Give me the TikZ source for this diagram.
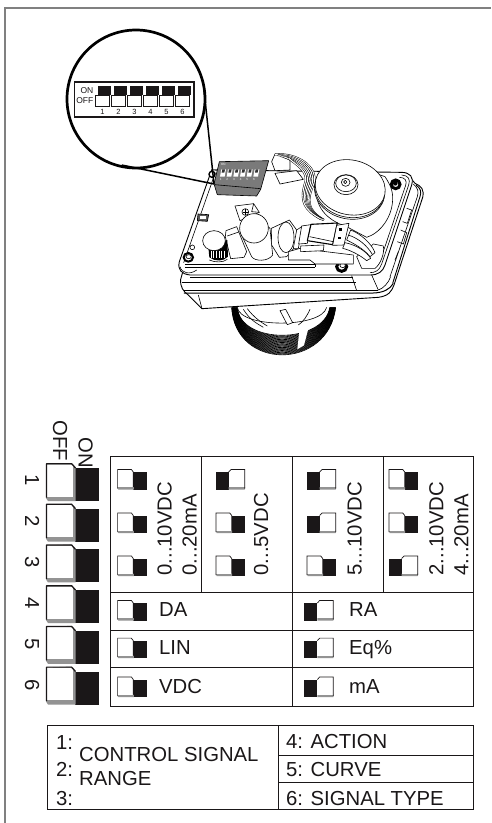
\documentclass[tikz,border=0pt]{standalone}
\usepackage{fontspec}
\setmainfont{Liberation Sans}
\definecolor{ink}{HTML}{1A1718}
\definecolor{frameg}{HTML}{808080}
\definecolor{swg}{HTML}{939393}
\definecolor{dipg}{HTML}{7A7A7A}
\tikzset{
  lab/.style={font=\fontsize{20.3}{24}\selectfont,text=ink,inner sep=0pt,anchor=base west},
  vlab/.style={lab,rotate=90},
  dlab/.style={font=\fontsize{20.3}{24}\selectfont,text=ink,inner sep=0pt,anchor=base west,rotate=-90},
  rule/.style={draw=ink,line width=0.9pt},
  part/.style={draw=black,line width=0.6pt,fill=white,line join=round},
  ln/.style={draw=black,line width=0.6pt},
}
% big switch: top y
\newcommand{\bigsw}[1]{%
  \fill[ink] (75,#1+5) rectangle (98.5,#1+38);
  \fill[swg] (46,#1+1) -- (72,#1) -- (75.5,#1+4) -- (75.5,#1+38) -- (48,#1+38) -- (46,#1+35) -- cycle;
  \fill[white] (47,#1+1.5) rectangle (72.5,#1+33.5);
  \draw[ink,line width=1.2pt,line join=round] (46.5,#1+34.5) -- (46.5,#1+0.6) -- (71.5,#1+0.6) -- (75.5,#1+5);
}
% small switch, white on left
\newcommand{\swoff}[2]{%
  \fill[ink] (#1+16,#2+3) rectangle (#1+29.5,#2+20.5);
  \fill[swg] (#1,#2+18) -- (#1+16.5,#2+18) -- (#1+16.5,#2+20.5) -- (#1+1,#2+20.5) -- cycle;
  \fill[white] (#1+0.5,#2+0.5) rectangle (#1+15.5,#2+18);
  \draw[ink,line width=0.7pt] (#1+0.3,#2+19.5) -- (#1+0.3,#2+0.4) -- (#1+14,#2+0.4) -- (#1+16,#2+3) -- (#1+16,#2+18);
}
% small switch, black on left
\newcommand{\swon}[2]{%
  \fill[ink] (#1,#2+3) rectangle (#1+13,#2+20.5);
  \fill[swg] (#1+13,#2+18) -- (#1+29.5,#2+18) -- (#1+29,#2+20.5) -- (#1+13,#2+20.5) -- cycle;
  \fill[white] (#1+13,#2+0.5) rectangle (#1+28.5,#2+18);
  \draw[ink,line width=0.7pt] (#1+13,#2+3) -- (#1+15.5,#2+0.4) -- (#1+29,#2+0.4) -- (#1+29,#2+19.5);
}
\begin{document}
\begin{tikzpicture}[x=1pt,y=-1pt]
\useasboundingbox (0,0) rectangle (491,823);
\fill[white] (0,0) rectangle (491,823);
% frame
\draw[frameg,line width=2pt] (5,823) -- (5,8) -- (491,8);

% ---------- device (coordinates of a 3x view) ----------
\begin{scope}[x=0.33333pt,y=-0.33333pt,shift={(420,360)}]
  % knob ribs
  \fill[white] (275,560) -- (585,560) -- (575,640) -- (400,708) -- (300,660) -- cycle;
  \foreach \k in {0,...,27}{
    \draw[black,line width=0.62pt] ({275+\k*0.65},562) .. controls ({285+\k*0.5},{752-\k*2.9}) and ({565-\k*0.5},{752-\k*2.9}) .. ({587-\k*0.65},562);
  }
  \fill[white] (478,632) -- (506,622) -- (492,676) -- (472,688) -- cycle;
  \draw[ln,fill=white] (292,562) .. controls (300,625) and (545,625) .. (560,562);
  \draw[ln] (310,568) .. controls (330,600) and (350,610) .. (370,622);
  \draw[ln] (322,566) .. controls (340,590) and (360,605) .. (382,618);
  \draw[ln] (510,568) .. controls (500,590) and (490,605) .. (475,615);
  \draw[part] (420,572) -- (437,568) -- (458,608) -- (442,614) -- cycle;

  % lower shell
  \draw[part,line width=0.9pt] (122,478) .. controls (120,500) and (130,515) .. (145,525) -- (186,566) -- (715,532) .. controls (745,528) and (755,515) .. (762,495) -- (848,232) .. controls (853,210) and (845,198) .. (825,190) -- (800,160) -- (215,150) -- cycle;
  % top rim
  \draw[part,line width=0.9pt] (215,150) -- (118,425) .. controls (112,450) and (125,462) .. (150,465) -- (690,465) .. controls (715,465) and (728,455) .. (735,435) -- (815,195) .. controls (822,170) and (810,158) .. (785,157) -- cycle;
  \draw[ln] (226,158) -- (131,428);
  \draw[ln] (785,165) .. controls (805,166) and (812,178) .. (806,195) -- (725,432) .. controls (718,452) and (705,458) .. (690,458);
  \draw[ln] (778,172) .. controls (795,172) and (802,182) .. (797,196) -- (718,430);
  \draw[ln,line width=0.9pt] (828,195) .. controls (842,205) and (845,215) .. (840,230) -- (758,490);
  \draw[ln] (820,192) .. controls (835,205) and (836,215) .. (832,230) -- (750,470);
  % front lines
  \draw[ln,line width=0.9pt] (125,487) -- (648,487);
  \draw[ln] (133,510) -- (715,510);
  \draw[ln,line width=1pt] (132,519) -- (700,519) .. controls (730,518) and (750,508) .. (760,490);
  \draw[ln] (150,472) -- (640,472);
  \draw[ln] (635,467) -- (650,512);
  \draw[ln] (695,465) -- (715,510);
  \draw[ln] (715,510) .. controls (730,505) and (745,490) .. (752,470);
  \draw[ln] (175,525) -- (186,566);
  % PCB edge
  \draw[ln,line width=0.9pt] (135,432) -- (525,432);
  \draw[ln] (135,441) -- (525,441);
  \draw[ln] (525,432) -- (525,441);
  \draw[ln] (120,440) .. controls (125,460) and (150,465) .. (170,450);
  % right-side latches
  \draw[ln] (800,265) -- (815,270) -- (802,310) -- (788,305);
  \draw[ln] (782,330) -- (800,338) -- (790,372) -- (772,365);
  \draw[ln] (775,395) -- (765,420);

  % transformer body
  \draw[part] (530,190) .. controls (520,260) and (560,300) .. (620,320) -- (680,352) .. controls (720,340) and (760,290) .. (758,230) .. controls (757,205) and (745,185) .. (735,170) -- (620,130) -- cycle;
  % top disc layers
  \draw[part,rotate around={-12:(630,205)}] (630,213) ellipse [x radius=106,y radius=84];
  \draw[part,rotate around={-12:(630,205)}] (630,208) ellipse [x radius=106,y radius=84];
  \draw[part,rotate around={-12:(630,205)}] (630,202) ellipse [x radius=106,y radius=82];
  \draw[part] (618,194) ellipse [x radius=36,y radius=30];
  \draw[part] (618,190) ellipse [x radius=31,y radius=25];
  \draw[part] (617,187) ellipse [x radius=13,y radius=12];
  \draw[part] (616,186) ellipse [x radius=5,y radius=5];

  % header block and wires
  \draw[part] (405,160) -- (470,152) -- (490,178) -- (420,192) -- cycle;
  \draw[part] (395,125) -- (405,102) -- (450,120) -- (450,150) -- (405,152) -- cycle;
  \foreach \d in {0,7,...,35}{
    \draw[black,line width=2pt] ({405+\d*1.2},{103+\d*0.35}) .. controls ({472-\d*0.2},{98+\d*1.0}) and ({535-\d*0.7},{140+\d*0.4}) .. ({522-\d*0.8},{190+\d*0.1}) .. controls ({500-\d*0.6},{240+\d*0.1}) and ({500-\d*0.2},{270}) .. ({552-\d*0.3},{300-\d*0.1});
    \draw[white,line width=1.05pt] ({405+\d*1.2},{103+\d*0.35}) .. controls ({472-\d*0.2},{98+\d*1.0}) and ({535-\d*0.7},{140+\d*0.4}) .. ({522-\d*0.8},{190+\d*0.1}) .. controls ({500-\d*0.6},{240+\d*0.1}) and ({500-\d*0.2},{270}) .. ({552-\d*0.3},{300-\d*0.1});
  }

  % DIP block
  \draw[ln,fill=dipg,line join=round] (238,125) -- (386,122) -- (362,208) -- (350,228) -- (232,224) -- (222,192) -- cycle;
  \draw[ln] (224,194) -- (362,206);
  \foreach \i in {0,...,5}{
    \fill[white] ({244+\i*20},148) -- ({258+\i*20},148) -- ({254+\i*20},170) -- ({240+\i*20},170) -- cycle;
    \fill[black!80] ({247+\i*20},148) -- ({255+\i*20},148) -- ({253+\i*20},158) -- ({245+\i*20},158) -- cycle;
    \node[font=\fontsize{3}{3}\selectfont,text=white,inner sep=0pt] (dipn\i) at ({242+\i*20},179) {\the\numexpr\i+1\relax};
  }
  \node[font=\fontsize{3}{3}\selectfont,text=white,inner sep=0pt] (dipon) at (250,133) {ON};

  % mounting holes / screws
  \draw[part,line width=1.4pt] (216,163) circle [radius=9];
  \draw[black,line width=3pt,fill=white] (605,440) ellipse [x radius=15,y radius=14];
  \draw[part] (608,436) ellipse [x radius=8,y radius=7];
  \draw[black,line width=3pt,fill=white] (767,193) ellipse [x radius=13,y radius=13];
  \fill[black] (766,190) ellipse [x radius=7,y radius=7];
  \draw[black,line width=2pt,fill=white] (145,412) ellipse [x radius=14,y radius=13];
  \draw[part] (146,410) ellipse [x radius=8,y radius=6];
  \draw[part] (157,382) circle [radius=7];
  \draw[ln,fill=black!65] (174,282) -- (206,284) -- (202,304) -- (172,302) -- cycle;
  \fill[white] (181,287) rectangle (197,297);

  % trimmer
  \draw[part] (285,258) -- (341,251) -- (358,277) -- (300,302) -- cycle;
  \draw[part] (316,276) circle [radius=10];
  \draw[black,line width=0.7pt] (308,276) -- (324,276) (316,268) -- (316,284);
  \draw[ln] (341,251) -- (335,275) -- (358,277);

  % left block
  \draw[part] (258,332) -- (290,320) -- (320,395) -- (312,412) -- (272,416) -- (256,350) -- cycle;
  \draw[ln] (262,348) -- (296,336);
  % black can
  \fill[black] (205,380) -- (262,360) -- (264,410) .. controls (250,425) and (225,425) .. (208,412) -- cycle;
  \foreach \i in {212,220,...,258}{\draw[white,line width=0.2pt] (\i,392) -- (\i,415);}
  \draw[part] (222,362) ellipse [x radius=34,y radius=30];
  \draw[ln] (208,420) .. controls (225,428) and (250,428) .. (262,418);

  % big capacitor
  \draw[part] (300,335) -- (335,410) .. controls (345,425) and (385,425) .. (398,405) -- (390,325) -- (345,285) -- cycle;
  \draw[part] (342,325) ellipse [x radius=43,y radius=44];

  % second capacitor
  \draw[part] (394,325) -- (448,300) -- (470,330) -- (470,375) -- (440,410) -- (418,412) -- (395,375) -- cycle;
  \draw[part] (438,352) ellipse [x radius=24,y radius=46];

  % small PCB parts and relay
  \draw[part] (445,395) -- (480,385) -- (500,388) -- (640,405) -- (640,432) -- (525,432) -- (510,420) -- (445,420) -- cycle;
  \draw[part] (470,330) -- (488,318) -- (475,385) -- (460,385) -- cycle;
  \draw[part] (485,318) -- (512,314) -- (502,370) -- (476,372) -- cycle;
  \draw[part] (482,378) -- (552,375) -- (550,392) -- (482,395) -- cycle;
  \draw[part,line width=1.1pt] (513,313) -- (592,309) -- (578,374) -- (502,362) -- cycle;
  \draw[ln] (509,350) -- (580,365);
  \draw[part] (590,316) -- (627,310) -- (612,375) -- (578,376) -- cycle;
  \fill[black] (597,325) rectangle (606,332);
  \fill[black] (595,350) rectangle (604,357);

  % cup and wires
  \draw[part] (650,410) .. controls (665,395) and (690,385) .. (700,372) -- (730,378) .. controls (735,400) and (720,435) .. (705,445) -- (665,445) -- cycle;
  \draw[part] (632,330) .. controls (660,340) and (695,370) .. (705,398) -- (690,410) .. controls (670,385) and (640,370) .. (620,360) -- cycle;
  \draw[part] (615,368) .. controls (650,375) and (680,395) .. (692,415) -- (680,422) .. controls (660,405) and (630,390) .. (608,385) -- cycle;
  \draw[ln] (625,345) .. controls (655,355) and (680,375) .. (697,403);
\end{scope}

% ---------- magnifier ----------
\coordinate (lenshi) at (204,90);
\coordinate (lenslo) at (121.7,165);
\coordinate (dipcorner) at (214,184);
\draw[black,line width=2.7pt,fill=white] (136,99) circle [radius=69];
\draw[black,line width=1.5pt] (lenshi) -- (dipcorner);
\draw[black,line width=1.5pt] (lenslo) -- (dipcorner);
\draw[ink,line width=1.1pt,fill=white] (74.5,82) rectangle (194,117);
\foreach \i in {0,...,5}{
  \fill[ink] ({97.7+\i*16},85.7) rectangle ({110.7+\i*16},95.3);
  \draw[ink,line width=0.7pt,fill=white] ({95.6+\i*16},95.6) rectangle ({109.4+\i*16},106.5);
  \node[font=\fontsize{7.5}{8}\selectfont,text=ink,inner sep=0pt] (inum\i) at ({102.5+\i*16},112) {\the\numexpr\i+1\relax};
}
\node[font=\fontsize{8.5}{9}\selectfont,text=ink,inner sep=0pt,anchor=east] (ion) at (93.5,90.5) {ON};
\node[font=\fontsize{8.5}{9}\selectfont,text=ink,inner sep=0pt,anchor=east] (ioff) at (93.5,100.5) {OFF};

% ---------- big switches ----------
\foreach \t in {463,503.7,544.4,585.1,625.8,666.5}{\bigsw{\t}}
\node[dlab] (off) at (53,420) {OFF};
\node[dlab] (on) at (78.5,437) {ON};
\foreach \n/\yy in {1/474.5,2/515.5,3/556.5,4/597.5,5/638.5,6/679.5}{
  \node[dlab] (num\n) at (25,\yy) {\n};
}

% ---------- main table ----------
\draw[rule] (110.5,456) rectangle (473,706.5);
\draw[rule] (110.5,592.7) -- (473,592.7);
\draw[rule] (110.5,630) -- (473,630);
\draw[rule] (110.5,667.3) -- (473,667.3);
\draw[rule] (201.7,456) -- (201.7,592.7);
\draw[rule] (292.3,456) -- (292.3,706.5);
\draw[rule] (383,456) -- (383,592.7);

\swoff{117.3}{469}\swoff{117.3}{512.5}\swoff{117.3}{555.5}
\swon{215.7}{469}\swoff{215.7}{512.5}\swoff{215.7}{555.5}
\swon{306.7}{469}\swon{306.7}{512.5}\swoff{306.7}{555.5}
\swoff{388.7}{469}\swoff{388.7}{512.5}\swon{388.7}{555.5}
\swoff{117.3}{600}\swoff{117.3}{637.7}\swoff{117.3}{676.5}
\swon{304.3}{600}\swon{304.3}{637.7}\swon{304.3}{676.5}

\node[vlab] (a1) at (171.7,575.7) {0...10VDC};
\node[vlab] (a2) at (196.7,575.7) {0...20mA};
\node[vlab] (b1) at (268,575.7) {0...5VDC};
\node[vlab] (c1) at (361.7,575.7) {5...10VDC};
\node[vlab] (d1) at (443.3,575.7) {2...10VDC};
\node[vlab] (d2) at (468.3,575.7) {4...20mA};
\node[lab] (da) at (159,616.7) {DA};
\node[lab] (lin) at (159,654) {LIN};
\node[lab] (vdc) at (159,693) {VDC};
\node[lab] (ra) at (349,616.7) {RA};
\node[lab] (eq) at (349,654) {Eq\%};
\node[lab] (ma) at (349,693) {mA};

% ---------- legend table ----------
\draw[rule] (47,725) rectangle (473,809);
\draw[rule] (278.5,725) -- (278.5,809);
\draw[rule] (278.5,755) -- (473,755);
\draw[rule] (278.5,782.7) -- (473,782.7);
\node[lab] (l1) at (56,749) {1:};
\node[lab] (l2) at (56,776) {2:};
\node[lab] (l3) at (56,805) {3:};
\node[lab] (cs) at (79,761) {CONTROL SIGNAL};
\node[lab] (rg) at (79,785) {RANGE};
\node[lab] (l4) at (286,748) {4: ACTION};
\node[lab] (l5) at (286,776.7) {5: CURVE};
\node[lab] (l6) at (286,805) {6: SIGNAL TYPE};
\end{tikzpicture}
\end{document}
